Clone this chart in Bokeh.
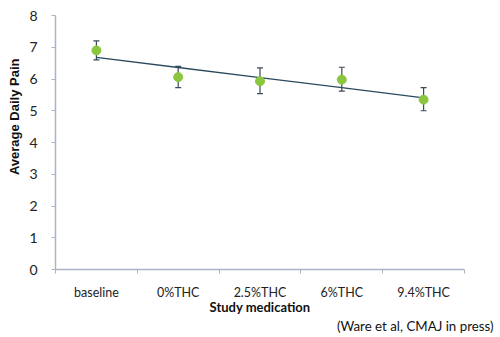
import numpy as np
from bokeh.plotting import figure
from bokeh.models import ColumnDataSource, Whisker, FixedTicker, Title, TeeHead
from bokeh.embed import file_html
from bokeh.resources import INLINE

# ---- data ----
categories = ["baseline", "0%THC", "2.5%THC", "6%THC", "9.4%THC"]
pain_mean = [6.90, 6.06, 5.93, 5.98, 5.35]
pain_upper = [7.20, 6.40, 6.35, 6.37, 5.73]
pain_lower = [6.60, 5.73, 5.54, 5.62, 5.00]
y_ticks = [0, 1, 2, 3, 4, 5, 6, 7, 8]

x_pos = np.arange(len(categories)) + 0.5
boundaries = list(np.arange(len(categories) + 1))

# linear trendline fitted to the means
slope, intercept = np.polyfit(x_pos, pain_mean, 1)
trend_y = slope * x_pos + intercept

src = ColumnDataSource(dict(x=x_pos, y=pain_mean, upper=pain_upper, lower=pain_lower))

W, H = 500, 337
p = figure(width=W, height=H, x_range=(0, len(categories)), y_range=(0, 8),
           output_backend="svg", toolbar_location=None,
           min_border_left=51, min_border_right=W - 464, min_border_top=15,
           min_border_bottom=H - 269)
p.outline_line_color = None
p.grid.visible = False
p.background_fill_color = "white"
p.border_fill_color = "white"

axis_col = "#a9b5c2"
label_col = "#222222"
FONT = "Lato"

# x axis
p.xaxis.ticker = FixedTicker(ticks=list(x_pos), minor_ticks=boundaries)
p.xaxis.major_label_overrides = {float(x): c for x, c in zip(x_pos, categories)}
p.xaxis.major_tick_out = 0
p.xaxis.major_tick_in = 0
p.xaxis.minor_tick_out = 4
p.xaxis.minor_tick_in = 0
p.xaxis.minor_tick_line_color = axis_col
p.xaxis.axis_line_color = axis_col
p.xaxis.axis_line_width = 1.5
p.xaxis.major_label_standoff = 11
p.xaxis.major_label_text_font = FONT
p.xaxis.major_label_text_font_size = "12.5px"
p.xaxis.major_label_text_color = label_col
p.xaxis.axis_label = "Study medication"
p.xaxis.axis_label_text_font = FONT
p.xaxis.axis_label_text_font_style = "bold"
p.xaxis.axis_label_text_font_size = "13px"
p.xaxis.axis_label_text_color = "#111111"
p.xaxis.axis_label_standoff = -4

# y axis
p.yaxis.ticker = FixedTicker(ticks=y_ticks)
p.yaxis.major_tick_out = 4
p.yaxis.major_tick_in = 0
p.yaxis.minor_tick_out = 0
p.yaxis.minor_tick_in = 0
p.yaxis.major_tick_line_color = axis_col
p.yaxis.axis_line_color = axis_col
p.yaxis.axis_line_width = 1.5
p.yaxis.major_label_standoff = 14
p.yaxis.major_label_text_font = FONT
p.yaxis.major_label_text_font_size = "14px"
p.yaxis.major_label_text_color = label_col

# trendline
p.line(x_pos, trend_y, line_color="#2b4a5e", line_width=1.3)

# error bars
w = Whisker(source=src, base="x", upper="upper", lower="lower",
            line_color="#3b4a58", line_width=1.2,
            upper_head=TeeHead(size=6, line_color="#3b4a58", line_width=1.2),
            lower_head=TeeHead(size=6, line_color="#3b4a58", line_width=1.2))
p.add_layout(w)

# markers
p.scatter("x", "y", source=src, size=9, fill_color="#8cc63f", line_color="#8cc63f")

# y axis title (placed like the reference, slightly above centre)
p.add_layout(Title(text="Average Daily Pain", align="right", offset=43, standoff=9,
                   text_font="Liberation Sans", text_font_style="bold",
                   text_font_size="13px", text_color="#111111"), "left")

# citation
p.add_layout(Title(text="(Ware et al, CMAJ in press)", align="right", offset=-29,
                   standoff=0, vertical_align="top", text_font=FONT,
                   text_font_style="normal", text_font_size="13.3px",
                   text_color="#111111"), "below")

open("out.html", "w").write(file_html(p, INLINE))
